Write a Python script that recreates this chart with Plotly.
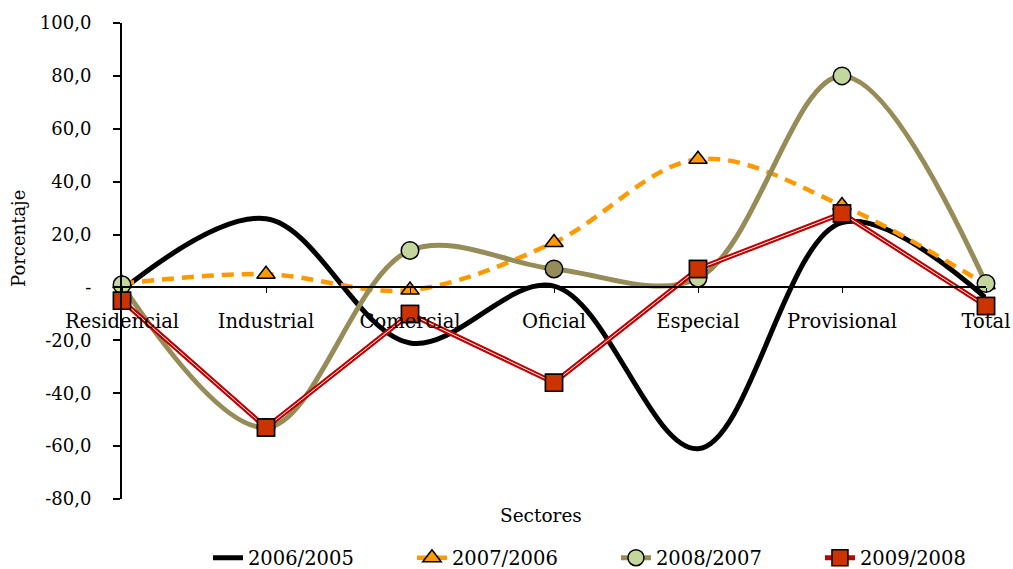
import plotly.graph_objects as go

categories = ["Residencial", "Industrial", "Comercial", "Oficial", "Especial", "Provisional", "Total"]
s2006_2005 = [-1, 26, -21, 0.5, -61, 24.5, -4]
s2007_2006 = [1.5, 5, -1, 17, 48.5, 31, 1]
s2008_2007 = [1, -53, 14, 7, 3.5, 80, 1.5]
s2009_2008 = [-5, -53, -10, -36, 7, 28, -7]
series_names = ["2006/2005", "2007/2006", "2008/2007", "2009/2008"]
y_tickvals = [100, 80, 60, 40, 20, 0, -20, -40, -60, -80]
y_ticktext = ["100,0", "80,0", "60,0", "40,0", "20,0", "-", "-20,0", "-40,0", "-60,0", "-80,0"]

FONT = "DejaVu Serif"
x = list(range(len(categories)))

olive_fill = ["#c3d69b"] * len(categories)
olive_fill[3] = "#958c58"

sq_marker = dict(symbol="square", size=17, color="#cc3300", line=dict(color="#000000", width=1.5))

fig = go.Figure()
fig.add_trace(go.Scatter(
    x=x, y=s2006_2005, name=series_names[0], mode="lines",
    line=dict(color="#000000", width=5, shape="spline", smoothing=1),
    legendwidth=159, cliponaxis=False))
fig.add_trace(go.Scatter(
    x=x, y=s2007_2006, name=series_names[1], mode="lines+markers",
    line=dict(color="#ff9900", width=4.5, dash="12px,8px", shape="spline", smoothing=1),
    marker=dict(symbol="triangle-up", size=16, color="#ff9900",
                line=dict(color="#000000", width=1.5)),
    legendwidth=159, cliponaxis=False))
fig.add_trace(go.Scatter(
    x=x, y=s2008_2007, name=series_names[2], mode="lines+markers",
    line=dict(color="#958c58", width=5, shape="spline", smoothing=1),
    marker=dict(symbol="circle", size=17.5, color=olive_fill,
                line=dict(color="#000000", width=1.5)),
    legendwidth=159, cliponaxis=False))
fig.add_trace(go.Scatter(
    x=x, y=s2009_2008, name=series_names[3], mode="lines+markers",
    line=dict(color="#c00000", width=5), marker=sq_marker,
    legendwidth=100, cliponaxis=False))
fig.add_trace(go.Scatter(
    x=x, y=s2009_2008, name=series_names[3], mode="lines",
    line=dict(color="#ffffff", width=1),
    showlegend=False, cliponaxis=False, hoverinfo="skip"))
fig.add_trace(go.Scatter(
    x=x, y=s2009_2008, name=series_names[3], mode="markers",
    marker=sq_marker, showlegend=False, cliponaxis=False))

fig.update_layout(
    width=1013, height=569,
    margin=dict(l=122, r=27, t=23, b=70, autoexpand=False),
    paper_bgcolor="white", plot_bgcolor="white",
    font=dict(family=FONT, size=18, color="#000000"),
    showlegend=True,
    legend=dict(orientation="h", x=0.0995, xanchor="left", y=-0.124, yanchor="middle",
                font=dict(family=FONT, size=19.5), entrywidthmode="pixels",
                bgcolor="rgba(0,0,0,0)"),
    xaxis=dict(
        range=[0, 6], tickvals=x, ticktext=categories, automargin=False,
        anchor="free", position=80 / 180,
        showline=True, linecolor="#000000", linewidth=1.5,
        ticks="outside", ticklen=5, tickcolor="#000000", tickwidth=1,
        ticklabelstandoff=11, showgrid=False, zeroline=False,
        tickfont=dict(family=FONT, size=19.5)),
    yaxis=dict(
        range=[-80, 100], tickvals=y_tickvals, ticktext=y_ticktext, automargin=False,
        showline=True, linecolor="#000000", linewidth=2,
        ticks="outside", ticklen=7, tickcolor="#000000", tickwidth=2,
        ticklabelstandoff=18, showgrid=False, zeroline=False,
        tickfont=dict(family=FONT, size=18)),
    annotations=[
        dict(text="Porcentaje", x=(18 - 122) / 864, y=(499 - 239) / 476,
             xref="paper", yref="paper", textangle=-90, showarrow=False,
             font=dict(family=FONT, size=18), xanchor="center", yanchor="middle"),
        dict(text="Sectores", x=(541 - 122) / 864, y=(499 - 515) / 476,
             xref="paper", yref="paper", showarrow=False,
             font=dict(family=FONT, size=18.5), xanchor="center", yanchor="middle"),
    ],
)

fig.write_html("out.html", config={"displayModeBar": False},
               post_script="document.body.style.margin='0px';")
